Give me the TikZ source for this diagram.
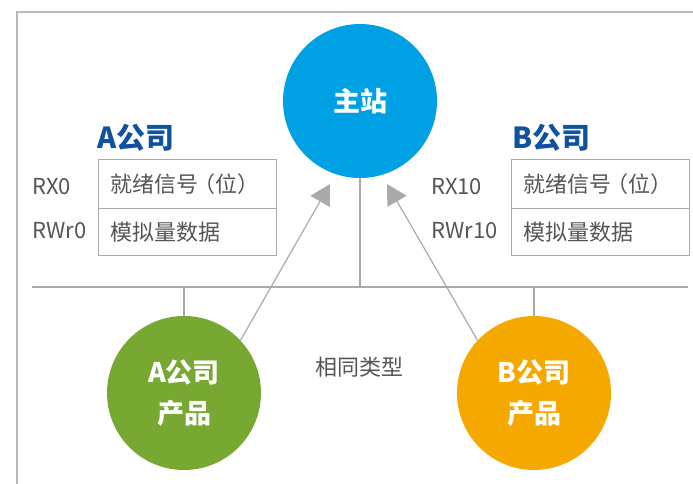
\documentclass[tikz,border=0pt]{standalone}
\usepackage{fontspec}
\setmainfont{Noto Sans CJK SC}
\usetikzlibrary{arrows.meta}
\definecolor{mainblue}{RGB}{0,160,228}
\definecolor{agreen}{RGB}{118,168,50}
\definecolor{borange}{RGB}{245,168,0}
\definecolor{titleblue}{RGB}{16,82,160}
\definecolor{txtgray}{RGB}{85,85,85}
\definecolor{framegray}{RGB}{185,185,185}
\definecolor{linegray}{RGB}{170,170,170}
\begin{document}
\begin{tikzpicture}[x=1pt,y=-1pt,
  bigcircle/.style={circle,minimum size=154pt,inner sep=0pt,text=white,font=\fontsize{27}{34}\selectfont\bfseries,align=center},
  cell/.style={draw=linegray,line width=1pt,anchor=north west,minimum width=178pt,text width=154pt,inner xsep=12pt,inner ysep=0pt,align=left,text=txtgray,font=\fontsize{22}{26}\selectfont},
  reglabel/.style={anchor=west,inner sep=0pt,text=txtgray,font=\fontsize{22}{26}\selectfont},
  title/.style={anchor=west,inner sep=0pt,text=titleblue,font=\fontsize{29}{32}\selectfont\bfseries},
  conn/.style={draw=linegray,line width=1.2pt},
  arr/.style={draw=linegray,line width=1.2pt,-{Triangle[length=20pt,width=22pt,fill=linegray]}}
]
\useasboundingbox (0,0) rectangle (693,484);
% frame
\draw[framegray,line width=1.5pt] (17,484) -- (17,12) -- (693,12);
% bus
\coordinate (busL) at (32,287);
\coordinate (busR) at (688,287);
\draw[conn] (busL) -- (busR);
% circles
\node[bigcircle,fill=mainblue] (main) at (360,101) {主站};
\node[bigcircle,fill=agreen] (A) at (184,393) {A公司\\[7pt]产品};
\node[bigcircle,fill=borange] (B) at (534,393) {B公司\\[7pt]产品};
% drops
\draw[conn] (main.south) -- (main.south |- busL);
\draw[conn] (A.north) -- (A.north |- busL);
\draw[conn] (B.north) -- (B.north |- busL);
% arrows
\coordinate (tipA) at (330,184);
\coordinate (tipB) at (387,184);
\draw[arr] (A.43) -- (tipA);
\draw[arr] (B.137) -- (tipB);
% label
\node[inner sep=0pt,text=txtgray,font=\fontsize{22}{26}\selectfont] (same) at (359,367) {相同类型};
% A table
\node[title] (At) at (97,138) {A公司};
\node[cell,minimum height=49pt] (A1) at (98,159) {就绪信号\kern-0.25em（位）};
\node[cell,minimum height=47pt] (A2) at (98,208) {模拟量数据};
\node[reglabel] (Ar1) at (32,187) {RX0};
\node[reglabel] (Ar2) at (32,231) {RWr0};
% B table
\node[title] (Bt) at (512,138) {B公司};
\node[cell,minimum height=49pt] (B1) at (511,159) {就绪信号\kern-0.25em（位）};
\node[cell,minimum height=47pt] (B2) at (511,208) {模拟量数据};
\node[reglabel] (Br1) at (431,187) {RX10};
\node[reglabel] (Br2) at (431,231) {RWr10};
\end{tikzpicture}
\end{document}
